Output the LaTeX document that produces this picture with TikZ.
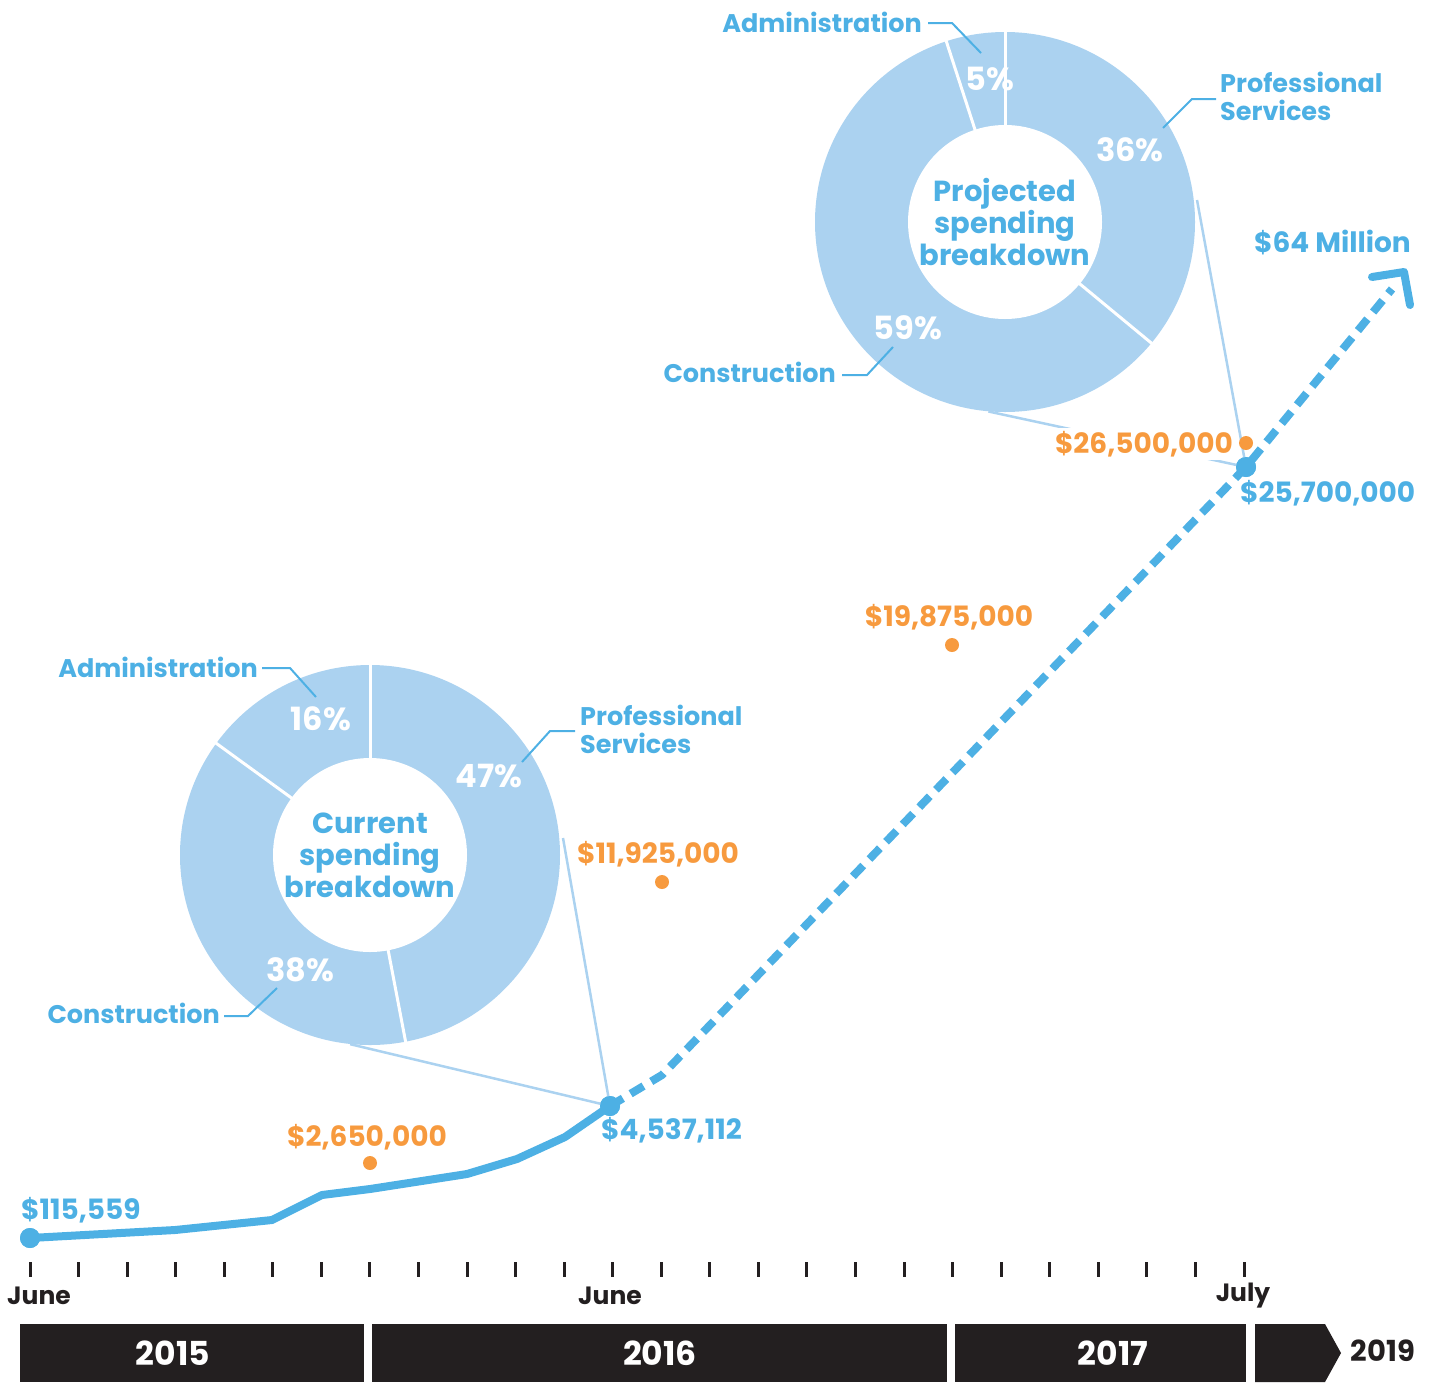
\documentclass[tikz,border=0pt]{standalone}
\usepackage{fontspec}
\setmainfont{Poppins}
\usetikzlibrary{calc}
\definecolor{tblue}{HTML}{4DB0E4}
\definecolor{dblue}{HTML}{ABD2F0}
\definecolor{torange}{HTML}{F79A3E}
\definecolor{tblack}{HTML}{231F20}
\begin{document}
\begin{tikzpicture}[x=1pt,y=-1pt,
  donut/.style={circle, fill=dblue, minimum size=380pt, inner sep=0pt},
  hole/.style={circle, fill=white, minimum size=194pt, inner sep=0pt, align=center, text=tblue, font=\fontsize{29}{32}\selectfont\bfseries},
  pct/.style={text=white, font=\fontsize{32}{34}\selectfont\bfseries, inner sep=0pt},
  divider/.style={white, line width=3pt},
  lbl/.style={text=tblue, font=\fontsize{25.5}{28}\selectfont\bfseries, inner sep=0pt, align=left},
  leader/.style={tblue, line width=2pt},
  pointer/.style={dblue, line width=2.5pt},
  olbl/.style={text=torange, font=\fontsize{28}{30}\selectfont\bfseries, inner sep=1pt},
  bval/.style={text=tblue, font=\fontsize{28}{30}\selectfont\bfseries, inner sep=1pt},
  bdot/.style={circle, fill=tblue, minimum size=20pt, inner sep=0pt},
  odot/.style={circle, fill=torange, minimum size=14pt, inner sep=0pt},
  solidline/.style={tblue, line width=8pt, line join=round},
  dashline/.style={tblue, line width=8pt, dash pattern=on 15pt off 9pt},
  chevron/.style={tblue, line width=8pt, line cap=round, line join=round},
  tickmark/.style={tblack, line width=3pt},
  month/.style={text=tblack, font=\fontsize{25}{28}\selectfont\bfseries, inner sep=0pt},
  yearbar/.style={fill=tblack},
  year/.style={text=white, font=\fontsize{33}{36}\selectfont\bfseries, inner sep=0pt},
  year19/.style={text=tblack, font=\fontsize{29}{32}\selectfont\bfseries, inner sep=0pt}
]
\useasboundingbox (0,0) rectangle (1439,1382);

% ---------- Current donut ----------
\node[donut] (cd) at (370,855) {};
\foreach \a in {90,-79.2,144}{
  \draw[divider] ($(cd.center)+(-\a:96)$) -- ($(cd.center)+(-\a:191)$);
}
\node[hole] (ch) at (cd.center) {Current\\spending\\breakdown};
\node[pct] (c16) at (321,719) {16\%};
\node[pct] (c47) at (489,776) {47\%};
\node[pct] (c38) at (300,970) {38\%};

% ---------- Projected donut ----------
\node[donut] (pd) at (1005,222) {};
\foreach \a in {90,-39.6,108}{
  \draw[divider] ($(pd.center)+(-\a:96)$) -- ($(pd.center)+(-\a:191)$);
}
\node[hole] (ph) at (pd.center) {Projected\\spending\\breakdown};
\node[pct] (p5) at (990,79) {5\%};
\node[pct] (p36) at (1130,150) {36\%};
\node[pct] (p59) at (908,328) {59\%};

% ---------- category labels ----------
\node[lbl, anchor=east] (cadm) at (258,667) {Administration};
\node[lbl, anchor=north west] (cpro) at (580,705) {Professional\\Services};
\node[lbl, anchor=east] (ccon) at (220,1013) {Construction};
\node[lbl, anchor=east] (padm) at (922,22) {Administration};
\node[lbl, anchor=north west] (ppro) at (1220,72) {Professional\\Services};
\node[lbl, anchor=east] (pcon) at (836,372) {Construction};

\coordinate (la1) at (290,668); \coordinate (la2) at (316,697);
\draw[leader] (cadm.east) ++(4,1) -- (la1) -- (la2);
\coordinate (lb1) at (550,731); \coordinate (lb2) at (522,762);
\draw[leader] (575,731) -- (lb1) -- (lb2);
\coordinate (lc1) at (248,1016); \coordinate (lc2) at (277,988);
\draw[leader] (ccon.east) ++(4,3) -- (lc1) -- (lc2);
\coordinate (ld1) at (952,23); \coordinate (ld2) at (981,53);
\draw[leader] (padm.east) ++(6,1) -- (ld1) -- (ld2);
\coordinate (le1) at (1192,99); \coordinate (le2) at (1163,128);
\draw[leader] (1216,99) -- (le1) -- (le2);
\coordinate (lf1) at (867,375); \coordinate (lf2) at (893,347);
\draw[leader] (pcon.east) ++(6,3) -- (lf1) -- (lf2);

% ---------- data points ----------
\node[bdot] (p0) at (30,1238) {};
\node[bdot] (p1) at (610,1106) {};
\node[bdot] (p2) at (1246,467) {};
\coordinate (s1) at (175,1230);
\coordinate (s2) at (272,1220);
\coordinate (s3) at (322,1195);
\coordinate (s4) at (370,1189);
\coordinate (s5) at (467,1174);
\coordinate (s6) at (517,1159);
\coordinate (s7) at (565,1137);
\coordinate (d1) at (662,1075);
\coordinate (dend) at (1392,289);

% pointer lines
\draw[pointer] (cd.-96) -- (p1.center);
\draw[pointer] (563,838) -- (p1.center);
\draw[pointer] (pd.-95) -- (p2.center);
\draw[pointer] (1197,200) -- (p2.center);

\draw[solidline] (p0.center) -- (s1) -- (s2) -- (s3) -- (s4) -- (s5) -- (s6) -- (s7) -- (p1.center);
\draw[dashline] (p1.center) -- (d1) -- (p2.center) -- (dend);
\coordinate (ch1) at (1372,277);
\coordinate (ch2) at (1404,272);
\coordinate (ch3) at (1410,305);
\draw[chevron] (ch1) -- (ch2) -- (ch3);

\node[bdot] at (p0) {};
\node[bdot] at (p1) {};
\node[bdot] at (p2) {};

\node[odot] (o1) at (370,1163) {};
\node[odot] (o2) at (662,882) {};
\node[odot] (o3) at (952,645) {};
\node[odot] (o4) at (1246,443) {};

% values
\node[bval, anchor=west] (v0) at (20,1210) {\$115,559};
\node[bval, anchor=west] (v1) at (600,1130) {\$4,537,112};
\node[bval, anchor=west] (v2) at (1239,493) {\$25,700,000};
\node[bval, anchor=east] (v3) at (1412,242) {\$64 Million};
\node[olbl] (ov1) at (367,1137) {\$2,650,000};
\node[olbl] (ov2) at (658,854) {\$11,925,000};
\node[olbl] (ov3) at (949,617) {\$19,875,000};
\node[olbl, fill=white, anchor=east, inner sep=3pt] (ov4) at (1236,444) {\$26,500,000};

% ---------- timeline ----------
\foreach \i in {0,...,25}{
  \draw[tickmark] (30+\i*48.56,1262) -- (30+\i*48.56,1277);
}
\node[month] (m1) at (39,1296) {June};
\node[month] (m2) at (610,1296) {June};
\node[month] (m3) at (1243,1296) {July};

\fill[yearbar] (20,1324) rectangle (364,1382);
\fill[yearbar] (372,1324) rectangle (947,1382);
\fill[yearbar] (955,1324) rectangle (1246,1382);
\fill[yearbar] (1255,1324) -- (1325,1324) -- (1341,1353) -- (1325,1382) -- (1255,1382) -- cycle;
\node[year] (y15) at (173,1353) {2015};
\node[year] (y16) at (660,1353) {2016};
\node[year] (y17) at (1113,1353) {2017};
\node[year19] (y19) at (1383,1351) {2019};
\end{tikzpicture}
\end{document}
